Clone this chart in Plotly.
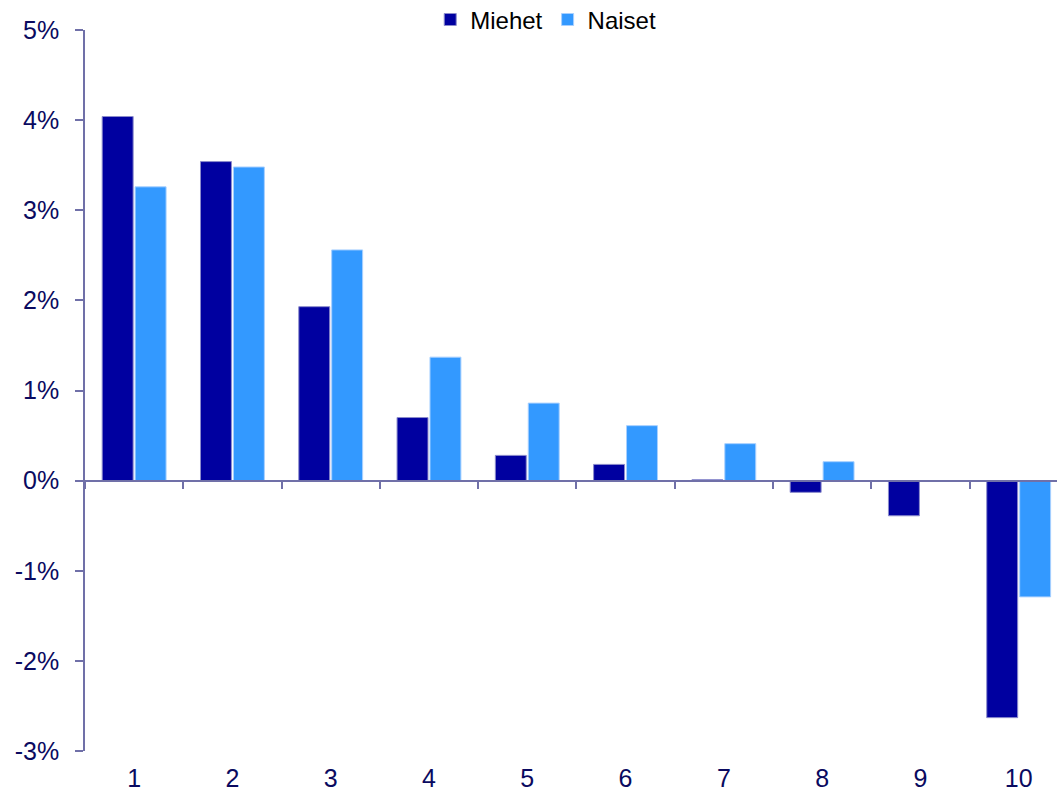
import plotly.graph_objects as go

categories = [1, 2, 3, 4, 5, 6, 7, 8, 9, 10]
category_labels = ["1", "2", "3", "4", "5", "6", "7", "8", "9", "10"]
miehet = [4.04, 3.54, 1.93, 0.70, 0.28, 0.18, 0.01, -0.13, -0.39, -2.63]
naiset = [3.26, 3.48, 2.56, 1.37, 0.86, 0.61, 0.41, 0.21, -0.01, -1.29]
y_ticks = [-3, -2, -1, 0, 1, 2, 3, 4, 5]
y_tick_labels = ["-3%", "-2%", "-1%", "0%", "1%", "2%", "3%", "4%", "5%"]
boundaries = [c - 0.5 for c in categories] + [categories[-1] + 0.5]

AXIS = "#7070A8"
TXT = "#0A0A60"
FONT = "Liberation Sans, Arial, sans-serif"

fig = go.Figure()
fig.add_trace(go.Bar(x=categories, y=miehet, name="Miehet",
                     marker=dict(color="#0000A0", line=dict(color="#8C8CCC", width=1))))
fig.add_trace(go.Bar(x=categories, y=naiset, name="Naiset",
                     marker=dict(color="#3399FF", line=dict(color="#A8D0FF", width=1))))
# invisible helper trace for the zero-crossing category axis
fig.add_trace(go.Scatter(x=categories, y=[0] * len(categories), xaxis="x2",
                         mode="markers", marker=dict(opacity=0), showlegend=False,
                         hoverinfo="skip"))

fig.update_layout(
    width=1057, height=793,
    margin=dict(l=85, r=0, t=30, b=42, autoexpand=False),
    paper_bgcolor="white", plot_bgcolor="white",
    barmode="group", bargap=0.33, bargroupgap=0.06,
    font=dict(family=FONT, size=25, color=TXT),
    showlegend=True,
    legend=dict(orientation="h", x=0.474, xanchor="center", y=1.014, yanchor="middle",
                font=dict(family=FONT, size=24, color="black"),
                itemwidth=30, tracegroupgap=0, bgcolor="rgba(0,0,0,0)"),
    xaxis=dict(range=[0.5, 10.39], tickmode="array", tickvals=categories,
               ticktext=category_labels, showline=False, showgrid=False, zeroline=False,
               automargin=False, ticks="", ticklabelstandoff=10,
               tickfont=dict(family=FONT, size=25, color=TXT)),
    xaxis2=dict(overlaying="x", matches="x", anchor="free", position=0.375,
                showline=True, linecolor=AXIS, linewidth=1.5, automargin=False,
                tickmode="array", tickvals=boundaries, ticks="outside", ticklen=8,
                tickcolor=AXIS, tickwidth=1.5, showticklabels=False,
                showgrid=False, zeroline=False),
    yaxis=dict(range=[-3, 5], tickmode="array", tickvals=y_ticks, ticktext=y_tick_labels,
               showline=True, linecolor=AXIS, linewidth=1.5, ticks="outside",
               ticklen=8, tickcolor=AXIS, tickwidth=1.5, showgrid=False, automargin=False,
               ticklabelstandoff=11,
               zeroline=False, tickfont=dict(family=FONT, size=25, color=TXT)),
)

fig.write_html("out.html", config={"displayModeBar": False},
               post_script="document.body.style.margin='0';document.body.style.overflow='hidden';")
